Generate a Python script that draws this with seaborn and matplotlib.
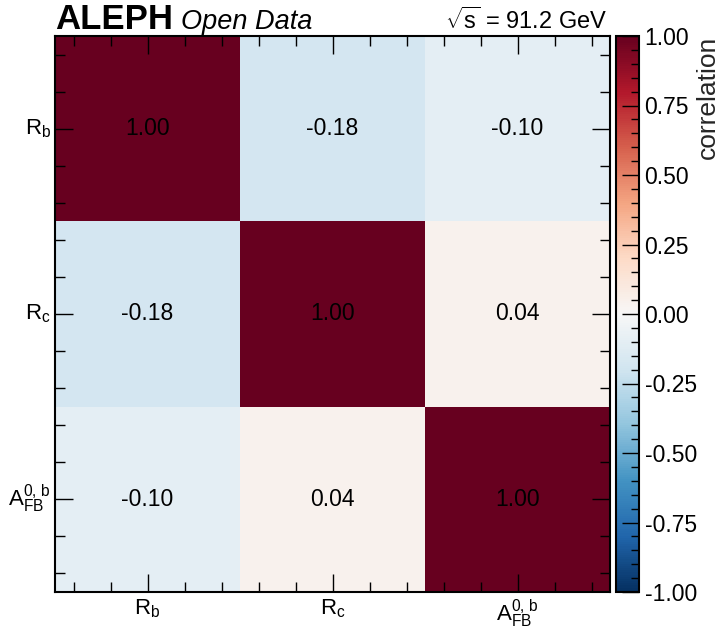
import matplotlib
matplotlib.use("Agg")
import matplotlib.pyplot as plt
from matplotlib.ticker import MultipleLocator, FormatStrFormatter
import pandas as pd
import seaborn as sns

# Fit-parameter labels and their correlation matrix rows
params = [r"$R_b$", r"$R_c$", r"$A_{FB}^{0,\,b}$"]
corr_rb = [1.00, -0.18, -0.10]
corr_rc = [-0.18, 1.00, 0.04]
corr_afb = [-0.10, 0.04, 1.00]

experiment = "ALEPH"
subtitle = "Open Data"
energy_label = r"$\sqrt{s}$ = 91.2 GeV"
cbar_label = "correlation"

sns.set_style("ticks")
plt.rcParams.update({
    "font.family": ["Liberation Sans", "DejaVu Sans"],
    "mathtext.fontset": "custom",
    "mathtext.rm": "Liberation Sans",
    "mathtext.it": "Liberation Sans:italic",
    "mathtext.bf": "Liberation Sans:bold",
    "mathtext.sf": "Liberation Sans",
    "mathtext.default": "regular",
    "axes.edgecolor": "black",
    "xtick.color": "black",
    "ytick.color": "black",
    "text.color": "black",
})

corr = pd.DataFrame([corr_rb, corr_rc, corr_afb], index=params, columns=params)

W, H = 724, 626
fig = plt.figure(figsize=(W / 100, H / 100), dpi=100)
ax = fig.add_axes([55 / W, 1 - 592 / H, 555 / W, 556 / H])
cax = fig.add_axes([616 / W, 1 - 592 / H, 23 / W, 556 / H])

sns.heatmap(corr, ax=ax, cbar_ax=cax, cmap="RdBu_r", vmin=-1, vmax=1,
            annot=True, fmt=".2f",
            annot_kws={"color": "black", "fontsize": 16.5})

# Frame around the matrix, ticks drawn above the cells
ax.set_axisbelow(False)
for spine in ax.spines.values():
    spine.set_visible(True)
    spine.set_linewidth(1.5)
    spine.set_color("black")
    spine.set_zorder(5)

ax.set_xticklabels(params, rotation=0, fontsize=16)
ax.set_yticklabels(params, rotation=0, fontsize=16)
ax.xaxis.set_minor_locator(MultipleLocator(0.2, offset=0.1))
ax.yaxis.set_minor_locator(MultipleLocator(0.2, offset=0.1))
ax.tick_params(which="both", direction="in", top=True, right=True,
               bottom=True, left=True, width=1, color="black")
ax.tick_params(which="major", length=13)
ax.tick_params(which="minor", length=7)
ax.tick_params(axis="x", which="major", pad=4)
ax.tick_params(axis="y", which="major", pad=3)
ax.set_xlabel("")
ax.set_ylabel("")

# Colorbar styling
cax.set_axisbelow(False)
cb = ax.collections[0].colorbar
cb.outline.set_visible(True)
cb.outline.set_linewidth(1.5)
cb.outline.set_edgecolor("black")
cax.yaxis.set_major_locator(MultipleLocator(0.25))
cax.yaxis.set_minor_locator(MultipleLocator(0.05))
cax.yaxis.set_major_formatter(FormatStrFormatter("%.2f"))
cax.tick_params(which="both", direction="in", right=True, left=False,
                width=1, color="black", labelsize=16.5, pad=4)
cax.tick_params(which="major", length=12)
cax.tick_params(which="minor", length=6)
cax.set_ylabel(cbar_label, fontsize=19, loc="top", labelpad=-1)

# Experiment label above the frame
base_y = 1 + 7 / 556
t1 = ax.text(0, base_y, experiment, transform=ax.transAxes, fontsize=25,
             fontweight="bold", ha="left", va="baseline")
fig.canvas.draw()
bb = t1.get_window_extent(fig.canvas.get_renderer())
ax_bb = ax.get_window_extent()
x_next = (bb.x1 + 8 - ax_bb.x0) / ax_bb.width
ax.text(x_next, base_y, subtitle, transform=ax.transAxes, fontsize=19.5,
        fontstyle="italic", ha="left", va="baseline")
ax.text(1 - 3 / 555, base_y, energy_label, transform=ax.transAxes,
        fontsize=17, ha="right", va="baseline")

fig.savefig("out.png", dpi=100)
